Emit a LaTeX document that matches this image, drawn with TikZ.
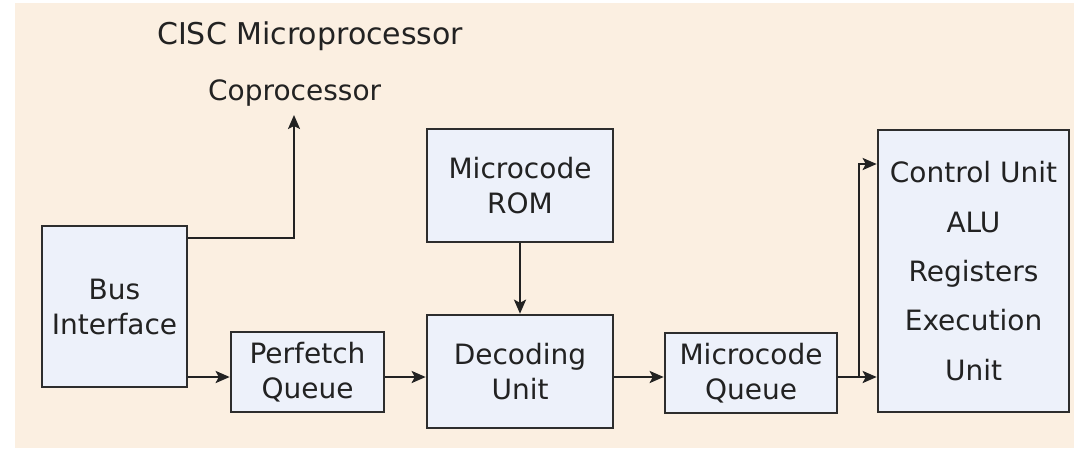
\documentclass[tikz,border=0pt]{standalone}
\usepackage{fontspec}
\setmainfont{DejaVu Sans}
\usetikzlibrary{arrows.meta}
\definecolor{paper}{RGB}{251,239,225}
\definecolor{boxfill}{RGB}{237,241,250}
\definecolor{ink}{RGB}{34,34,34}
\definecolor{edge}{RGB}{45,45,45}
\tikzset{
  unit/.style={draw=edge, line width=2.6pt, fill=boxfill, inner sep=0pt,
    align=center, text=ink, font=\fontsize{28}{35}\selectfont},
  label/.style={inner sep=0pt, anchor=base west, text=ink},
  link/.style={draw=ink, line width=2.2pt,
    -{Stealth[length=14pt,width=12pt,inset=3pt]}},
  wire/.style={draw=ink, line width=2.2pt}
}
\begin{document}
\begin{tikzpicture}[x=1pt,y=-1pt]
  \useasboundingbox (0,0) rectangle (1074,448);
  \fill[white] (0,0) rectangle (1074,448);
  \fill[paper] (15,3) rectangle (1074,448);

  % headings
  \node[label, font=\fontsize{30}{36}\selectfont] (title) at (157,44) {CISC Microprocessor};
  \node[label, font=\fontsize{28}{34}\selectfont] (copro) at (208,100) {Coprocessor};

  % functional units
  \node[unit, minimum width=145pt, minimum height=161pt] (bus) at (114.5,306.5) {Bus\\Interface};
  \node[unit, minimum width=153pt, minimum height=80pt] (pq) at (307.5,372) {Perfetch\\Queue};
  \node[unit, minimum width=186pt, minimum height=113pt] (rom) at (520,185.5) {Microcode\\ROM};
  \node[unit, minimum width=186pt, minimum height=113pt] (dec) at (520,371.5) {Decoding\\Unit};
  \node[unit, minimum width=172pt, minimum height=80pt] (mq) at (751,373) {Microcode\\Queue};
  \node[unit, minimum width=191pt, minimum height=282pt,
        font=\fontsize{28}{49.3}\selectfont] (ctl) at (973.5,271)
        {Control Unit\\ALU\\Registers\\Execution\\Unit};

  % routing points
  \coordinate (row) at (0,377);
  \coordinate (cotip) at (294,115);
  \coordinate (split) at (859,377);
  \coordinate (upper) at (0,164);

  % connectors
  \draw[link] (bus.east |- 0,238) -| (cotip);
  \draw[link] (bus.east |- row) -- (pq.west |- row);
  \draw[link] (pq.east |- row) -- (dec.west |- row);
  \draw[link] (rom.south) -- (dec.north);
  \draw[link] (dec.east |- row) -- (mq.west |- row);
  \draw[link] (mq.east |- row) -- (ctl.west |- row);
  \draw[link] (split) |- (ctl.west |- upper);
\end{tikzpicture}
\end{document}
